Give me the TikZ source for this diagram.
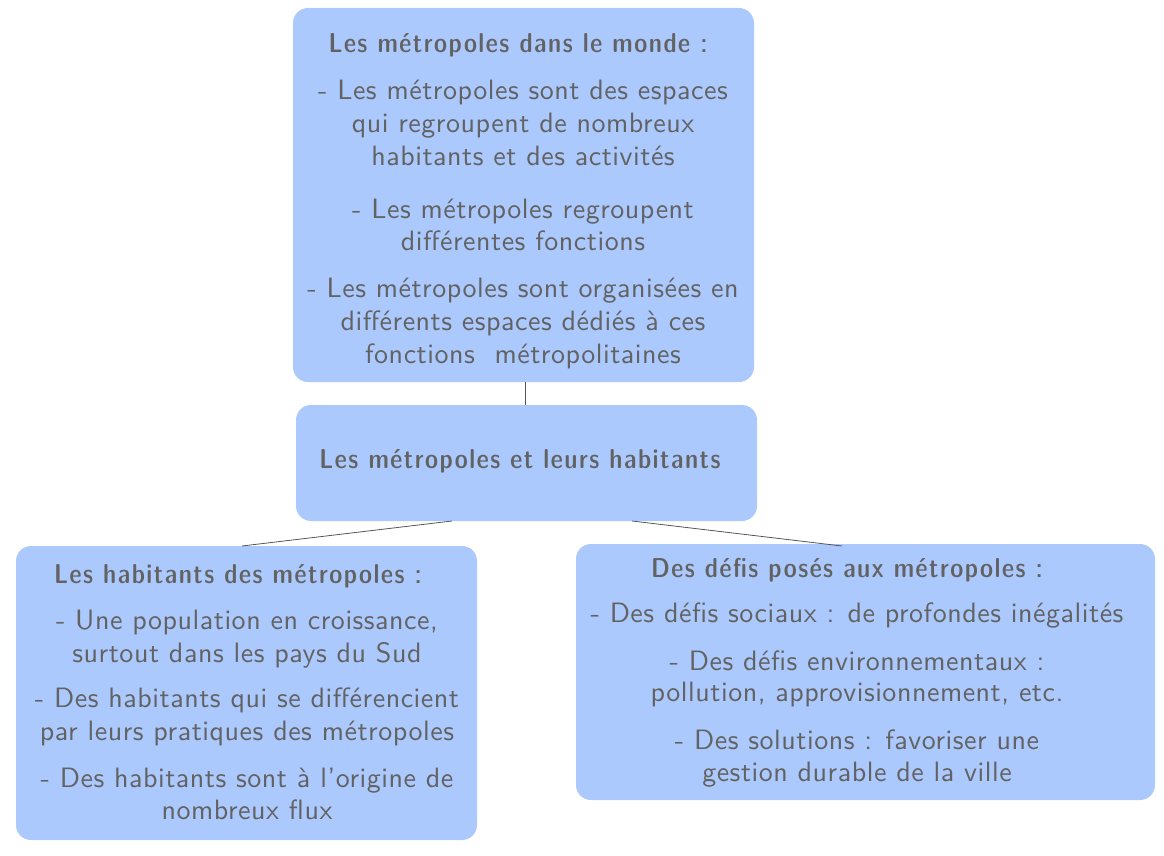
\documentclass[tikz,border=0pt]{standalone}
\usepackage{fontspec}
\newfontfamily\bodyfont{lmsans10-regular.otf}[LetterSpace=1.9]
\newfontfamily\titlefont{lmsansdemicond10-regular.otf}[LetterSpace=5.5]
\usepackage{xcolor}
\definecolor{boxfill}{HTML}{ABC9FD}
\definecolor{txtcol}{HTML}{626262}
\definecolor{linecol}{HTML}{555555}
\begin{document}
\begin{tikzpicture}[x=1pt,y=-1pt,
  box/.style={fill=boxfill,rounded corners=15pt,draw=none,inner sep=0pt},
  txt/.style={anchor=base,inner sep=0pt,text=txtcol,font=\bodyfont\fontsize{28}{33}\selectfont},
  ttl/.style={anchor=base,inner sep=0pt,text=txtcol,font=\titlefont\fontsize{27.3}{33}\selectfont},
  conn/.style={draw=linecol,line width=0.8pt}]
\useasboundingbox (0,0) rectangle (1164,856);
% boxes
\node[box,minimum width=461pt,minimum height=374pt] (top) at (523.5,195) {};
\node[box,minimum width=461pt,minimum height=116pt] (mid) at (526.5,463) {};
\node[box,minimum width=461pt,minimum height=294pt] (left) at (246.5,693) {};
\node[box,minimum width=579pt,minimum height=256pt] (right) at (865.5,672) {};
% connectors
\coordinate (tB) at (525,382);
\coordinate (mT) at (525,405);
\coordinate (mL) at (452,521);
\coordinate (mR) at (632,521);
\coordinate (lT) at (242,546);
\coordinate (rT) at (842,546);
\draw[conn] (tB) -- (mT);
\draw[conn] (mL) -- (lT);
\draw[conn] (mR) -- (rT);
% top text
\node[ttl] (t0) at (518,52.5) {Les métropoles dans le monde :};
\node[txt] (t1) at (523,99.5) {- Les métropoles sont des espaces};
\node[txt] (t2) at (523,132.5) {qui regroupent de nombreux};
\node[txt] (t3) at (523,165.5) {habitants et des activités};
\node[txt] (t4) at (523,218.5) {- Les métropoles regroupent};
\node[txt] (t5) at (523,250.5) {différentes fonctions};
\node[txt] (t6) at (523,297.5) {- Les métropoles sont organisées en};
\node[txt] (t7) at (523,330.5) {différents espaces dédiés à ces};
\node[txt] (t8) at (523,363.5) {fonctions\ \ métropolitaines};
% middle
\node[ttl] (m0) at (520,468) {Les métropoles et leurs habitants};
% left
\node[ttl] (l0) at (238,583) {Les habitants des métropoles :};
\node[txt] (l1) at (247,629.5) {- Une population en croissance,};
\node[txt] (l2) at (247,662.5) {surtout dans les pays du Sud};
\node[txt] (l3) at (247,707.5) {- Des habitants qui se différencient};
\node[txt] (l4) at (247,740.5) {par leurs pratiques des métropoles};
\node[txt] (l5) at (247,787.5) {- Des habitants sont à l’origine de};
\node[txt] (l6) at (247,819.5) {nombreux flux};
% right
\node[ttl] (r0) at (847,577) {Des défis posés aux métropoles :};
\node[txt] (r1) at (857,622.5) {- Des défis sociaux : de profondes inégalités};
\node[txt] (r2) at (857,670.5) {- Des défis environnementaux :};
\node[txt] (r3) at (857,701.5) {pollution, approvisionnement, etc.};
\node[txt] (r4) at (857,749.5) {- Des solutions : favoriser une};
\node[txt] (r5) at (857,781.5) {gestion durable de la ville};
\end{tikzpicture}
\end{document}
